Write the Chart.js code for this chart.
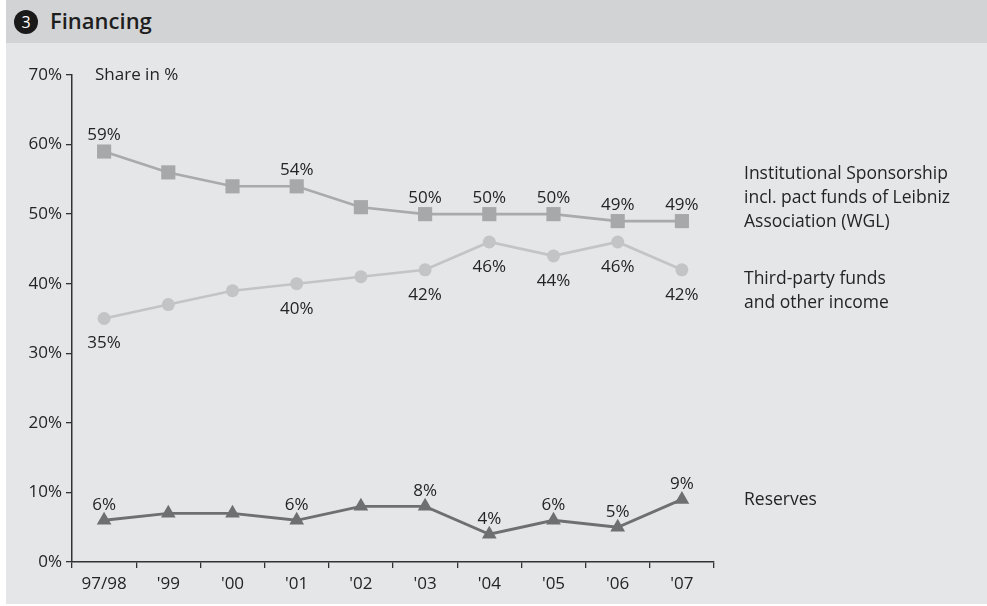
<!DOCTYPE html>
<html>
<head>
<meta charset="utf-8">
<script src="https://cdn.jsdelivr.net/npm/chart.js@4.4.1/dist/chart.umd.min.js"></script>
<style>
  html, body { margin: 0; padding: 0; background: #ffffff; width: 987px; height: 606px; overflow: hidden; }
  #panel { position: absolute; left: 6px; top: 0; width: 981px; height: 604px; background: #e5e6e8; }
  #titlebar { position: absolute; left: 0; top: 0; width: 981px; height: 43px; background: #d2d3d5; }
  #badge { position: absolute; left: 8px; top: 10px; width: 24px; height: 24px; border-radius: 50%; background: #1a1a1a; color: #fff;
           font: 16px "Open Sans", sans-serif; text-align: center; line-height: 24px; }
  #title { position: absolute; left: 44px; top: 5px; font: 600 22px "Open Sans", sans-serif; color: #1e1e1e; }
  canvas { position: absolute; left: 0; top: 0; }
</style>
</head>
<body>
<div id="panel">
  <div id="titlebar"><div id="badge">3</div><div id="title">Financing</div></div>
</div>
<canvas id="c" width="987" height="606"></canvas>
<script>
const categories = ["97/98", "'99", "'00", "'01", "'02", "'03", "'04", "'05", "'06", "'07"];
const institutional = [59, 56, 54, 54, 51, 50, 50, 50, 49, 49];
const thirdParty   = [35, 37, 39, 40, 41, 42, 46, 44, 46, 42];
const reserves     = [6, 7, 7, 6, 8, 8, 4, 6, 5, 9];
const institutionalLabels = ["59%", null, null, "54%", null, "50%", "50%", "50%", "49%", "49%"];
const thirdPartyLabels   = ["35%", null, null, "40%", null, "42%", "46%", "44%", "46%", "42%"];
const reservesLabels     = ["6%", null, null, "6%", null, "8%", "4%", "6%", "5%", "9%"];
const yTicks = [0, 10, 20, 30, 40, 50, 60, 70];
const seriesNames = [
  ["Institutional Sponsorship", "incl. pact funds of Leibniz", "Association (WGL)"],
  ["Third-party funds", "and other income"],
  ["Reserves"]
];
const seriesNameAnchors = [52.3, 39, 8.9];

const FONT = '"Open Sans", sans-serif';
const TEXT = '#242424';

const labelPlugin = {
  id: 'labelPlugin',
  afterDatasetsDraw(chart) {
    const ctx = chart.ctx;
    const yScale = chart.scales.y;
    ctx.save();
    ctx.fillStyle = TEXT;
    ctx.textBaseline = 'middle';
    ctx.font = '17px ' + FONT;
    ctx.textAlign = 'center';
    chart.data.datasets.forEach((ds, i) => {
      const meta = chart.getDatasetMeta(i);
      ds.pointLabels.forEach((t, j) => {
        if (!t) return;
        const p = meta.data[j];
        ctx.fillText(t, p.x, p.y + ds.labelOffset);
      });
    });
    ctx.textAlign = 'left';
    ctx.fillText('Share in %', chart.chartArea.left + 23, chart.chartArea.top);
    ctx.font = '17.5px ' + FONT;
    seriesNames.forEach((lines, i) => {
      const cy = yScale.getPixelForValue(seriesNameAnchors[i]);
      const n = lines.length;
      lines.forEach((line, k) => {
        ctx.fillText(line, chart.chartArea.right + 30, cy + (k - (n - 1) / 2) * 24);
      });
    });
    ctx.restore();
  }
};

new Chart(document.getElementById('c'), {
  type: 'line',
  data: {
    labels: categories,
    datasets: [
      { label: 'Institutional', data: institutional, pointLabels: institutionalLabels, labelOffset: -16,
        borderColor: '#a9aaac', backgroundColor: '#a7a8aa', borderWidth: 2.6,
        pointStyle: 'rect', pointRadius: 10, pointBorderWidth: 0, pointBackgroundColor: '#a7a8aa' },
      { label: 'Third-party', data: thirdParty, pointLabels: thirdPartyLabels, labelOffset: 25,
        borderColor: '#c3c4c6', backgroundColor: '#c3c4c6', borderWidth: 2.6,
        pointStyle: 'circle', pointRadius: 6.5, pointBorderWidth: 0, pointBackgroundColor: '#c3c4c6' },
      { label: 'Reserves', data: reserves, pointLabels: reservesLabels, labelOffset: -15,
        borderColor: '#6e6f71', backgroundColor: '#6e6f71', borderWidth: 2.8,
        pointStyle: 'triangle', pointRadius: 8.5, pointBorderWidth: 0, pointBackgroundColor: '#6e6f71' }
    ]
  },
  options: {
    responsive: false,
    animation: false,
    events: [],
    layout: { padding: { top: 75, right: 273, left: 0, bottom: 0 } },
    plugins: { legend: { display: false }, tooltip: { enabled: false } },
    elements: { line: { tension: 0 } },
    scales: {
      x: {
        type: 'category',
        offset: true,
        afterFit(s) { s.height = 44; },
        grid: { offset: true, drawOnChartArea: false, drawTicks: true, tickLength: 6, color: '#333', lineWidth: 1.3 },
        border: { display: true, color: '#333', width: 1.5 },
        ticks: { color: TEXT, font: { family: FONT, size: 17 }, padding: 6, maxRotation: 0 }
      },
      y: {
        min: 0, max: 70,
        afterFit(s) { s.width = 72; },
        afterBuildTicks(s) { s.ticks = yTicks.map(v => ({ value: v })); },
        grid: { drawOnChartArea: false, drawTicks: true, tickLength: 6, color: '#333', lineWidth: 1.3 },
        border: { display: true, color: '#333', width: 1.5 },
        ticks: { color: TEXT, font: { family: FONT, size: 17 }, padding: 4, callback: v => v + '%' }
      }
    }
  },
  plugins: [labelPlugin]
});
</script>
</body>
</html>
